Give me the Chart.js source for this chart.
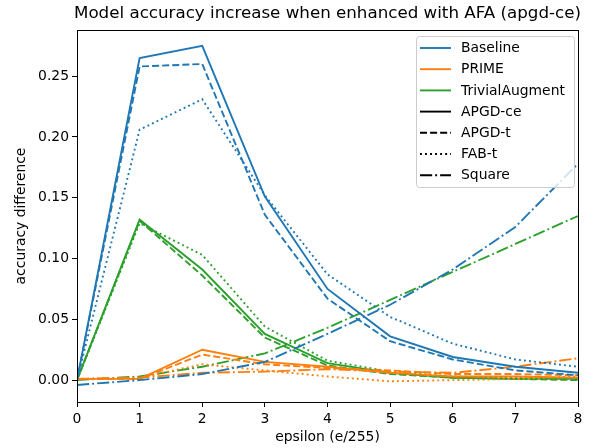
<!DOCTYPE html>
<html>
<head>
<meta charset="utf-8">
<script src="https://cdn.jsdelivr.net/npm/chart.js@4.4.0/dist/chart.umd.min.js"></script>
<style>
    html, body { margin: 0; padding: 0; background: #fff; }
    #wrap { width: 595px; height: 448px; }
</style>
</head>
<body>
<div id="wrap"><canvas id="chart" width="595" height="448"></canvas></div>
<script>
// Data
const epsilons = [0, 1, 2, 3, 4, 5, 6, 7, 8];
const xTicks = [0, 1, 2, 3, 4, 5, 6, 7, 8];
const yTicks = [0, 0.05, 0.10, 0.15, 0.20, 0.25];

const models = ['Baseline', 'PRIME', 'TrivialAugment'];
const modelColors = ['#1f77b4', '#ff7f0e', '#2ca02c'];
const attacks = ['APGD-ce', 'APGD-t', 'FAB-t', 'Square'];

const baselineApgdCe = [0, 0.265, 0.275, 0.151, 0.075, 0.036, 0.019, 0.011, 0.006];
const baselineApgdT  = [0, 0.258, 0.260, 0.136, 0.067, 0.032, 0.017, 0.008, 0.004];
const baselineFabT   = [0, 0.206, 0.231, 0.152, 0.087, 0.052, 0.030, 0.017, 0.011];
const baselineSquare = [-0.004, 0.000, 0.005, 0.015, 0.038, 0.062, 0.091, 0.126, 0.178];

const primeApgdCe = [0.001, 0.001, 0.025, 0.015, 0.011, 0.006, 0.003, 0.003, 0.002];
const primeApgdT  = [0.001, 0.001, 0.021, 0.013, 0.010, 0.008, 0.005, 0.005, 0.004];
const primeFabT   = [0.001, 0.002, 0.013, 0.008, 0.003, -0.001, 0.000, 0.001, 0.003];
const primeSquare = [0.001, 0.002, 0.006, 0.007, 0.009, 0.007, 0.006, 0.011, 0.018];

const trivialApgdCe = [0, 0.132, 0.091, 0.038, 0.014, 0.006, 0.002, 0.001, 0.001];
const trivialApgdT  = [0, 0.131, 0.086, 0.035, 0.012, 0.005, 0.002, 0.001, 0.000];
const trivialFabT   = [0, 0.129, 0.103, 0.044, 0.016, 0.007, 0.003, 0.002, 0.001];
const trivialSquare = [0, 0.003, 0.011, 0.022, 0.043, 0.066, 0.089, 0.112, 0.135];

const seriesByModel = [
    [baselineApgdCe, baselineApgdT, baselineFabT, baselineSquare],
    [primeApgdCe, primeApgdT, primeFabT, primeSquare],
    [trivialApgdCe, trivialApgdT, trivialFabT, trivialSquare]
];

const chartTitle = 'Model accuracy increase when enhanced with AFA (apgd-ce)';

// matplotlib-like dash styles, scaled to the line width
const LW = 1.9;
const attackDashes = [
    [],
    [3.7 * LW, 1.6 * LW],
    [1 * LW, 1.65 * LW],
    [6.4 * LW, 1.6 * LW, 1 * LW, 1.6 * LW]
];

const FONT = 'DejaVu Sans';
const TEXT_SIZE = 13.9;

// Build datasets
const datasets = [];
models.forEach((model, m) => {
    attacks.forEach((attack, a) => {
        datasets.push({
            label: model + ' ' + attack,
            data: epsilons.map((x, i) => ({ x, y: seriesByModel[m][a][i] })),
            borderColor: modelColors[m],
            borderWidth: LW,
            borderDash: attackDashes[a],
            borderCapStyle: 'butt',
            pointRadius: 0,
            tension: 0,
            fill: false
        });
    });
});

/**
 * Axes frame, title over the plot area and legend inside it, matplotlib style
 */
const framePlugin = {
    id: 'frame',
    afterDraw(chart) {
        const { ctx, chartArea } = chart;
        ctx.save();
        ctx.strokeStyle = '#000';
        ctx.lineWidth = 1;
        ctx.setLineDash([]);
        ctx.strokeRect(Math.round(chartArea.left) + 0.5, Math.round(chartArea.top) + 0.5,
            Math.round(chartArea.right - chartArea.left), Math.round(chartArea.bottom - chartArea.top));

        // Title centred over the axes
        ctx.fillStyle = '#000';
        ctx.font = '16.7px "' + FONT + '"';
        ctx.textAlign = 'center';
        ctx.textBaseline = 'middle';
        ctx.fillText(chartTitle, (chartArea.left + chartArea.right) / 2, 14);

        // Legend
        const entries = [];
        models.forEach((m, i) => entries.push({ text: m, color: modelColors[i], dash: [] }));
        attacks.forEach((a, i) => entries.push({ text: a, color: '#000', dash: attackDashes[i] }));

        const bx = 416, by = 36, bw = 158, bh = 151, r = 3;
        ctx.fillStyle = 'rgba(255,255,255,0.8)';
        ctx.strokeStyle = '#cccccc';
        ctx.lineWidth = 1;
        ctx.beginPath();
        ctx.roundRect(bx + 0.5, by + 0.5, bw, bh, r);
        ctx.fill();
        ctx.stroke();

        ctx.font = TEXT_SIZE + 'px "' + FONT + '"';
        ctx.textAlign = 'left';
        ctx.textBaseline = 'middle';
        entries.forEach((e, i) => {
            const y = 48 + i * 21.2;
            ctx.strokeStyle = e.color;
            ctx.lineWidth = LW;
            ctx.lineCap = 'butt';
            ctx.setLineDash(e.dash);
            ctx.beginPath();
            ctx.moveTo(420, y);
            ctx.lineTo(451, y);
            ctx.stroke();
            ctx.fillStyle = '#000';
            ctx.fillText(e.text, 461, y + 0.5);
        });
        ctx.restore();
    }
};

new Chart(document.getElementById('chart'), {
    type: 'line',
    data: { datasets },
    plugins: [framePlugin],
    options: {
        responsive: false,
        animation: false,
        layout: { padding: { left: 0, right: 17, top: 30, bottom: 0 } },
        plugins: {
            legend: { display: false },
            tooltip: { enabled: false },
            title: { display: false }
        },
        scales: {
            x: {
                type: 'linear',
                min: 0,
                max: 8,
                afterBuildTicks: (scale) => { scale.ticks = xTicks.map(v => ({ value: v })); },
                afterFit: (scale) => { scale.height = 46; },
                ticks: {
                    color: '#000',
                    font: { family: FONT, size: TEXT_SIZE },
                    padding: 4,
                    maxRotation: 0
                },
                grid: { display: true, drawOnChartArea: false, drawTicks: true, tickLength: 5, color: '#000' },
                border: { display: true, color: '#000' },
                title: {
                    display: true,
                    text: 'epsilon (e/255)',
                    color: '#000',
                    font: { family: FONT, size: TEXT_SIZE },
                    padding: { top: 0, bottom: 2 }
                }
            },
            y: {
                min: -0.018,
                max: 0.288,
                afterBuildTicks: (scale) => { scale.ticks = yTicks.map(v => ({ value: v })); },
                afterFit: (scale) => { scale.width = 77; },
                ticks: {
                    color: '#000',
                    font: { family: FONT, size: TEXT_SIZE },
                    padding: 3,
                    callback: (v) => Number(v).toFixed(2)
                },
                grid: { display: true, drawOnChartArea: false, drawTicks: true, tickLength: 5, color: '#000' },
                border: { display: true, color: '#000' },
                title: {
                    display: true,
                    text: 'accuracy difference',
                    color: '#000',
                    font: { family: FONT, size: TEXT_SIZE },
                    padding: { top: 13, bottom: 4 }
                }
            }
        }
    }
});
</script>
</body>
</html>
